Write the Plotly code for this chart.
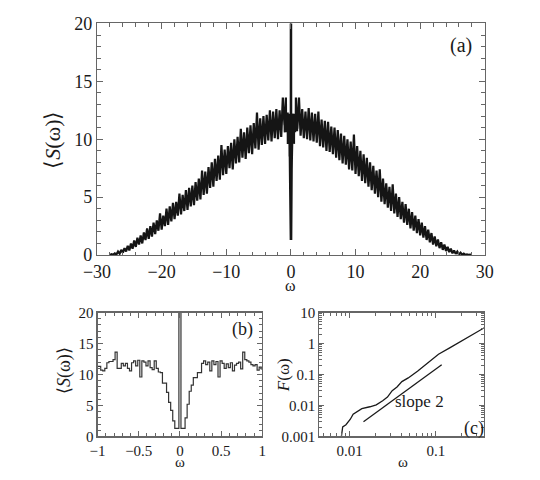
import numpy as np
import plotly.graph_objects as go

# ---------------- panel (a): wide spectrum ----------------
omega_a_left = np.arange(-28.0, -1.0, 0.25)          # -28 ... -1.25
S_a_left = [
    0.0, 0.08, 0.02, 0.15, 0.05, 0.3, 0.12, 0.45, 0.2, 0.6, 0.3, 0.8,
    0.4, 1.0, 0.55, 1.25, 0.7, 1.5, 0.9, 1.7, 1.0, 1.95, 1.3, 2.3,
    1.4, 2.5, 1.6, 2.8, 1.8, 3.0, 2.1, 3.6, 2.2, 3.4, 2.5, 4.0,
    2.6, 4.2, 2.9, 4.5, 3.1, 4.6, 3.4, 5.3, 3.5, 5.2, 3.8, 5.6,
    3.9, 5.8, 4.2, 6.0, 4.3, 6.3, 4.7, 6.6, 4.8, 7.3, 5.2, 7.2,
    5.3, 7.6, 5.8, 8.0, 5.9, 8.3, 6.4, 8.6, 6.5, 9.5, 6.9, 9.1,
    7.0, 9.4, 7.5, 9.7, 7.4, 10.0, 7.9, 10.2, 8.0, 10.9, 8.4, 10.6,
    8.3, 11.0, 8.8, 11.2, 8.7, 11.4, 9.2, 12.3, 9.1, 11.8, 9.5, 12.0,
    9.6, 12.1, 9.9, 12.5, 9.8, 12.4, 10.1, 12.6, 10.0, 12.5, 10.2, 13.6,
]
omega_a_right = np.arange(1.25, 28.01, 0.25)         # 1.25 ... 28
S_a_right = [
    13.6, 10.3, 12.6, 10.1, 12.4, 10.0, 12.7, 9.9, 12.3, 9.8, 12.2, 9.7,
    12.4, 9.4, 11.7, 9.3, 11.6, 9.0, 11.5, 8.9, 11.1, 8.7, 11.0, 8.4,
    10.8, 8.2, 10.5, 7.9, 10.3, 7.8, 10.0, 7.4, 9.8, 7.3, 10.4, 7.0,
    9.4, 6.8, 9.0, 6.4, 8.7, 6.2, 8.4, 5.9, 8.0, 5.6, 7.7, 5.3,
    7.3, 5.0, 7.4, 4.6, 6.6, 4.4, 6.2, 4.1, 5.9, 3.8, 6.1, 3.6,
    5.3, 3.3, 5.0, 3.1, 4.6, 2.8, 4.4, 2.6, 4.0, 2.3, 3.7, 2.1,
    3.4, 1.9, 3.1, 1.7, 2.8, 1.5, 2.5, 1.3, 2.2, 1.1, 1.9, 0.9,
    1.6, 0.75, 1.35, 0.6, 1.1, 0.45, 0.9, 0.35, 0.7, 0.25, 0.55, 0.15,
    0.4, 0.1, 0.3, 0.05, 0.2, 0.03, 0.12, 0.02, 0.06, 0.01, 0.03, 0.0,
]

# ---------------- panel (b): low-frequency zoom ----------------
omega_b = np.round(np.arange(-40, 41) * 0.025, 4)
S_b = [
    11.3, 11.3, 10.7, 10.6, 11.0, 11.9, 12.1, 12.1, 12.4, 13.6,
    11.0, 11.0, 11.8, 11.4, 11.8, 11.0, 10.6, 11.9, 12.2, 11.4,
    12.3, 9.6, 12.2, 12.0, 11.4, 12.2, 11.1, 10.8, 12.2, 11.0,
    10.4, 10.3, 8.6, 8.6, 7.1, 5.5, 4.2, 2.5, 1.3, 1.3,
    60.0,
    1.3, 1.3, 3.0, 5.2, 7.3, 8.3, 9.5, 9.5, 10.3, 10.3,
    11.8, 12.2, 11.6, 12.0, 10.6, 12.2, 11.6, 12.1, 9.6, 12.2,
    11.8, 11.0, 11.7, 11.1, 11.9, 10.6, 11.5, 11.8, 12.0, 10.9,
    13.6, 12.4, 12.2, 12.0, 11.6, 11.4, 11.6, 10.7, 11.2, 10.9,
]

omega_a = np.concatenate([omega_a_left, omega_b, omega_a_right])
S_a = S_a_left + S_b + S_a_right

# ---------------- panel (c): log-log ----------------
omega_c = [0.0079, 0.00832, 0.00908, 0.0102, 0.0110, 0.0122, 0.01387, 0.0172,
           0.0204, 0.0242, 0.0275, 0.0312, 0.0355, 0.0404, 0.0479, 0.0618,
           0.0798, 0.1074, 0.1449, 0.204, 0.287, 0.37]
F_c = [0.0007, 0.00204, 0.0024, 0.0036, 0.00525, 0.0063, 0.0079, 0.0091,
       0.0105, 0.0143, 0.0186, 0.0302, 0.0398, 0.0589, 0.0776, 0.130,
       0.237, 0.451, 0.724, 1.25, 2.16, 3.3]
slope_x = [0.0145, 0.117]
slope_y = [0.0030, 0.205]

FONT = "Liberation Serif"
TXT = "#1a1a1a"
FRAME = "#666666"

fig = go.Figure()
fig.add_trace(go.Scatter(x=omega_a, y=S_a, mode="lines",
                         line=dict(color="#151515", width=2.2),
                         xaxis="x", yaxis="y", showlegend=False))
fig.add_trace(go.Scatter(x=omega_b, y=S_b, mode="lines",
                         line=dict(color="#333333", width=1.2, shape="hvh"),
                         xaxis="x2", yaxis="y2", showlegend=False))
fig.add_trace(go.Scatter(x=omega_c, y=F_c, mode="lines",
                         line=dict(color="#1a1a1a", width=1.3),
                         xaxis="x3", yaxis="y3", showlegend=False))
fig.add_trace(go.Scatter(x=slope_x, y=slope_y, mode="lines",
                         line=dict(color="#1a1a1a", width=1.3),
                         xaxis="x3", yaxis="y3", showlegend=False))

def ax(**kw):
    base = dict(showline=True, linecolor=FRAME, linewidth=1.2, mirror="ticks",
                ticks="inside", ticklen=6, tickwidth=1, tickcolor=FRAME,
                showgrid=False, zeroline=False,
                tickfont=dict(family=FONT, size=15, color=TXT))
    base.update(kw)
    return base

minor_lin = lambda d: dict(dtick=d, ticks="inside", ticklen=3.5, tickcolor=FRAME, tickwidth=1, showgrid=False)
minor_log = dict(dtick="D1", ticks="inside", ticklen=3, tickcolor=FRAME, tickwidth=1, showgrid=False)

fig.update_layout(
    width=540, height=480,
    margin=dict(l=0, r=0, t=0, b=0),
    paper_bgcolor="white", plot_bgcolor="white",
    xaxis=ax(domain=[0.1606, 0.9106], anchor="y", range=[-30, 30], dtick=10,
             minor=minor_lin(2), tickfont=dict(family=FONT, size=18, color=TXT)),
    yaxis=ax(domain=[0.4673, 0.9708], anchor="x", range=[0, 20], dtick=5,
             minor=minor_lin(1), tickfont=dict(family=FONT, size=18, color=TXT)),
    xaxis2=ax(domain=[0.1617, 0.4802], anchor="y2", range=[-1, 1], dtick=0.5,
              minor=minor_lin(0.1), ticklen=5),
    yaxis2=ax(domain=[0.0729, 0.3423], anchor="x2", range=[0, 20], dtick=5,
              minor=minor_lin(1), ticklen=5),
    xaxis3=ax(domain=[0.5907, 0.9093], anchor="y3", type="log", range=[-2.35, -0.44],
              tickvals=[0.01, 0.1], ticktext=["0.01", "0.1"], minor=minor_log, ticklen=5),
    yaxis3=ax(domain=[0.0729, 0.3423], anchor="x3", type="log", range=[-3, 1],
              tickvals=[0.001, 0.01, 0.1, 1, 10],
              ticktext=["0.001", "0.01", "0.1", "1", "10"], minor=minor_log, ticklen=5),
)

def ann(text, x, y, size, xref="paper", yref="paper", angle=0):
    return dict(text=text, x=x, y=y, xref=xref, yref=yref, showarrow=False,
                textangle=angle, xanchor="center", yanchor="middle",
                font=dict(family=FONT, size=size, color=TXT))

fig.update_layout(annotations=[
    ann("⟨<i>S</i>(ω)⟩", 40 / 540, 1 - 135 / 480, 22, angle=-90),
    ann("ω", 289 / 540, 1 - 287 / 480, 16),
    ann("⟨<i>S</i>(ω)⟩", 53 / 540, 1 - 376 / 480, 18, angle=-90),
    ann("ω", 173 / 540, 1 - 472 / 480, 15),
    ann("<i>F</i>(ω)", 281 / 540, 1 - 381 / 480, 17, angle=-90),
    ann("ω", 406 / 540, 1 - 472 / 480, 15),
    ann("(a)", 26.3, 18.1, 20, xref="x", yref="y"),
    ann("(b)", 0.756, 17.2, 18, xref="x2", yref="y2"),
    ann("(c)", -0.56, -2.74, 18, xref="x3", yref="y3"),
    ann("slope 2", -1.19, -1.86, 17, xref="x3", yref="y3"),
])

fig.write_html("out.html",
               config={"displayModeBar": False, "staticPlot": True},
               post_script="document.body.style.margin='0';document.body.style.padding='0';"
                           "document.body.style.overflow='hidden';")
